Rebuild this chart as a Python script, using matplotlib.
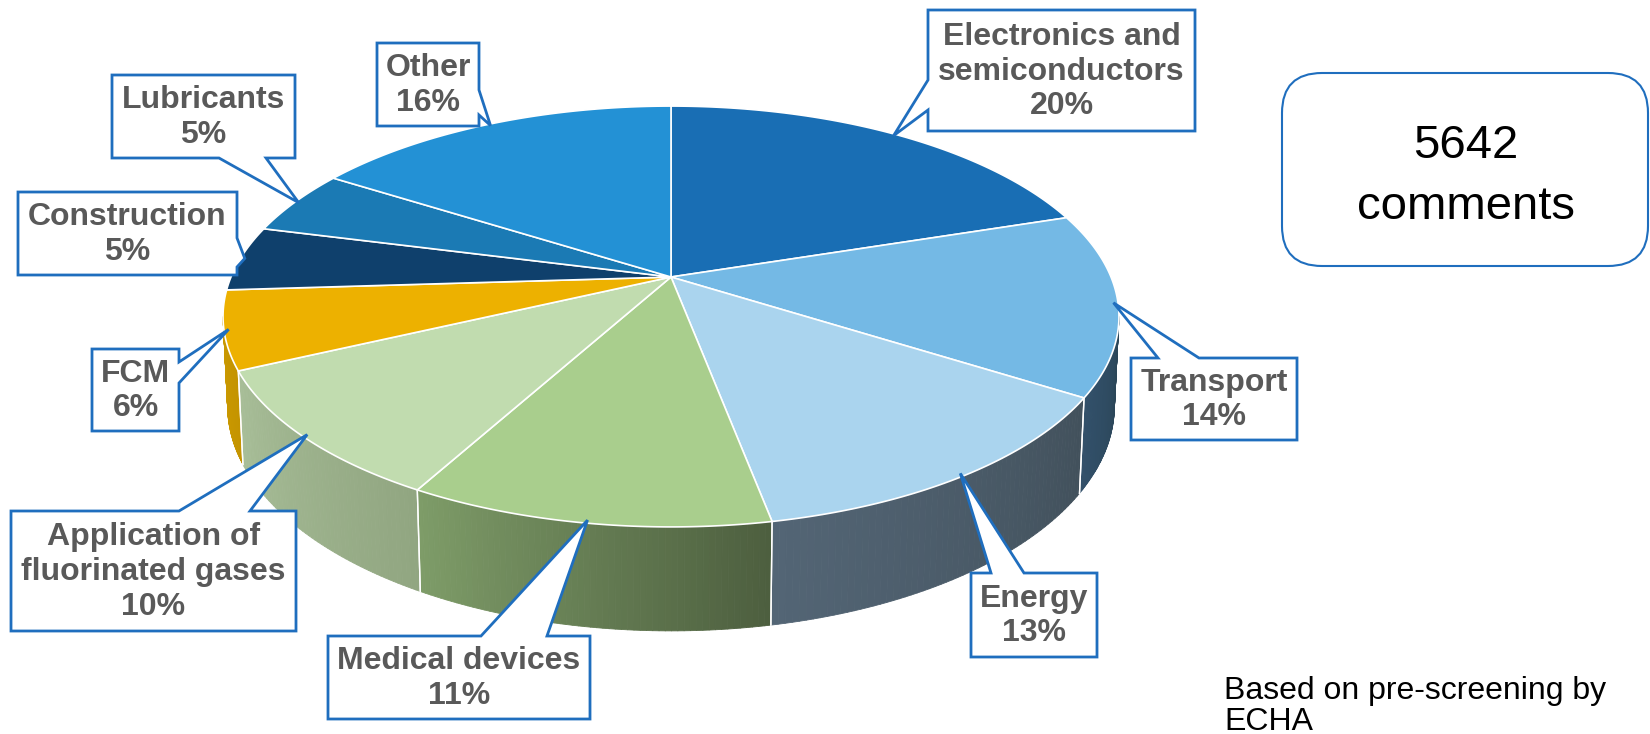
import matplotlib
matplotlib.use("Agg")
import matplotlib.pyplot as plt
import numpy as np
from matplotlib.patches import Polygon, FancyBboxPatch
from matplotlib.collections import PolyCollection
from matplotlib.colors import to_rgb

# data
categories = ["Electronics and\nsemiconductors", "Transport", "Energy", "Medical devices",
              "Application of\nfluorinated gases", "FCM", "Construction", "Lubricants", "Other"]
shares = [20, 14, 13, 11, 10, 6, 5, 5, 16]
total_comments = 5642
note = "Based on pre-screening by\nECHA"

# colours (top face, side light, side dark)
top_colors = ["#196EB4", "#74B9E5", "#AAD4EE", "#A9CE8D", "#C1DCAF",
              "#EDB100", "#0F406C", "#1B7AB4", "#2391D5"]
side_light = ["#124F82", "#32506A", "#536575", "#7E9C68", "#A8BE98",
              "#CC9A00", "#0A2D4C", "#135782", "#19699A"]
side_dark = ["#0E3F68", "#2B4658", "#42515C", "#4D5F3F", "#91A681",
             "#C49400", "#08233B", "#0F4568", "#13537A"]
EDGE_BLUE = "#1F6EBE"
TEXT_GREY = "#595959"

# callout layout (pixels): box, side of pointer, pointer base
boxes = [(928, 10, 1195, 131), (1131, 358, 1297, 440), (971, 573, 1097, 657),
         (328, 636, 590, 719), (11, 511, 296, 631), (92, 349, 179, 431),
         (18, 192, 237, 275), (112, 75, 295, 158), (377, 43, 479, 126)]
ptr_side = ["left", "top", "top", "top", "top", "right", "right", "bottom", "right"]
ptr_base = [(80, 110), (1158, 1199), (991, 1024), (481, 547), (179, 250),
            (362, 383), (238, 267), (219, 266), (90, 115)]

# pie geometry in pixels (perspective 3D pie)
CX, CY = 671, 277
A, B = 440, 203
K = 0.1877
DEPTH = 88
M = 0.01


def proj(theta, z=0.0, r=1.0):
    x = r * np.cos(theta)
    y = r * np.sin(theta)
    w = 1 + K * y + M * z
    return CX + A * x / w, CY - B * y / w + DEPTH * z / w


def callout(box, side, base, tip):
    x0, y0, x1, y1 = box
    lo, hi = sorted(base)
    pts = [(x0, y0)]
    if side == "top":
        pts += [(lo, y0), tip, (hi, y0)]
    pts.append((x1, y0))
    if side == "right":
        pts += [(x1, lo), tip, (x1, hi)]
    pts.append((x1, y1))
    if side == "bottom":
        pts += [(hi, y1), tip, (lo, y1)]
    pts.append((x0, y1))
    if side == "left":
        pts += [(x0, hi), tip, (x0, lo)]
    return pts


fig = plt.figure(figsize=(16.5, 7.34), dpi=100)
ax = fig.add_axes([0, 0, 1, 1])
ax.set_xlim(0, 1650)
ax.set_ylim(734, 0)
ax.axis("off")

fracs = np.array(shares, dtype=float) / sum(shares)
cum = np.concatenate([[0], np.cumsum(fracs)])
start_deg = 90 - 360 * cum[:-1]
end_deg = 90 - 360 * cum[1:]

# visible front side of the pie
front_lo = 180 + np.degrees(np.arcsin(K))
front_hi = 360 - np.degrees(np.arcsin(K))

for i in range(len(shares)):
    a, b = end_deg[i], start_deg[i]
    for off in (-360, 0, 360):
        lo = max(a + off, front_lo)
        hi = min(b + off, front_hi)
        if hi <= lo:
            continue
        th = np.radians(np.linspace(lo, hi, 60))
        polys, cols = [], []
        c0, c1 = np.array(to_rgb(side_light[i])), np.array(to_rgb(side_dark[i]))
        for j in range(len(th) - 1):
            p0t = proj(th[j]); p1t = proj(th[j + 1])
            p1b = proj(th[j + 1], 1); p0b = proj(th[j], 1)
            polys.append([p0t, p1t, p1b, p0b])
            f = j / (len(th) - 2)
            cols.append(c0 + (c1 - c0) * f)
        ax.add_collection(PolyCollection(polys, facecolors=cols, edgecolors=cols,
                                         linewidths=0.6, zorder=1))
        # white separators at slice boundaries on the side
        for t in (lo, hi):
            if front_lo + 0.5 < t < front_hi - 0.5:
                pt, pb = proj(np.radians(t)), proj(np.radians(t), 1)
                ax.plot([pt[0], pb[0]], [pt[1], pb[1]], color="white", lw=1.0, zorder=2)

# top face
for i in range(len(shares)):
    th = np.radians(np.linspace(start_deg[i], end_deg[i], 120))
    xs, ys = proj(th)
    pts = [(CX, CY)] + list(zip(xs, ys))
    ax.add_patch(Polygon(pts, closed=True, facecolor=top_colors[i], edgecolor="white",
                         lw=1.2, joinstyle="round", zorder=3))

# callouts
for i in range(len(shares)):
    mid = np.radians((start_deg[i] + end_deg[i]) / 2)
    tip = proj(mid, 0, 0.99)
    pts = callout(boxes[i], ptr_side[i], ptr_base[i], tip)
    ax.add_patch(Polygon(pts, closed=True, facecolor="white", edgecolor=EDGE_BLUE,
                         lw=2.0, joinstyle="miter", zorder=5))
    x0, y0, x1, y1 = boxes[i]
    ax.text((x0 + x1) / 2, (y0 + y1) / 2 + 1, f"{categories[i]}\n{shares[i]}%",
            ha="center", va="center", fontsize=23, fontweight="bold",
            color=TEXT_GREY, family="Liberation Sans", linespacing=1.2, zorder=6)

# total comments box
ax.add_patch(FancyBboxPatch((1282, 73), 366, 193,
                            boxstyle="round,pad=0,rounding_size=40",
                            facecolor="white", edgecolor=EDGE_BLUE, lw=1.5, zorder=5))
ax.text(1466, 146, str(total_comments), ha="center", va="center", fontsize=34,
        family="Liberation Sans", color="black", zorder=6)
ax.text(1466, 207, "comments", ha="center", va="center", fontsize=34,
        family="Liberation Sans", color="black", zorder=6)

ax.text(1224, 676, note, ha="left", va="top", fontsize=23,
        family="Liberation Sans", color="black", linespacing=1.05)

fig.savefig("out.png", dpi=100)
